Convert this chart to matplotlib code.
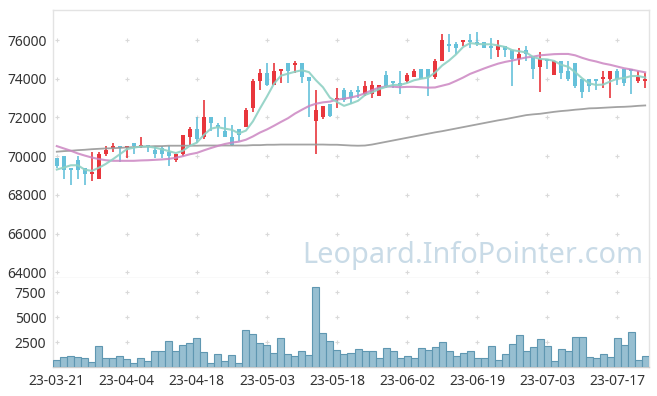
import numpy as np
import matplotlib.pyplot as plt

# daily candles (KRW), 85 trading days from 23-03-21
opens = [69900, 70000, 69400, 69800, 69400, 69100, 68800, 70100, 70400, 70500,
         70400, 70700, 70500, 70600, 70300, 70400, 70200, 69800, 70100, 71000,
         71400, 71000, 72000, 71600, 71300, 71000, 71400, 71500, 72500, 73900,
         74300, 73700, 74400, 74800, 74700, 74800, 74100, 71800, 72000, 72700,
         72900, 73400, 73300, 73400, 73200, 73200, 73100, 74200, 73900, 73800,
         73900, 74100, 74500, 74500, 74100, 74900, 75800, 75800, 75900, 76000,
         75900, 75900, 75700, 75500, 75700, 75500, 75000, 75500, 75200, 74600,
         75000, 74200, 74900, 74400, 74800, 74000, 74000, 74000, 74000, 74000,
         74400, 74500, 74500, 73900, 73900]
highs = [69900, 70000, 69400, 70000, 69400, 70200, 70200, 70500, 70700, 70500,
         70500, 70700, 71000, 70600, 70500, 70500, 70500, 70100, 71100, 71500,
         72000, 72900, 72000, 71700, 72000, 71600, 71400, 72500, 74000, 74500,
         74800, 74800, 74500, 74800, 74900, 74800, 74100, 73400, 72600, 72700,
         73500, 73500, 73400, 73600, 73900, 73900, 73700, 74400, 73900, 74400,
         74300, 74500, 74500, 74500, 75000, 76300, 76300, 75900, 76000, 76300,
         76400, 75900, 76100, 76000, 75700, 75500, 75600, 75700, 75200, 75400,
         75000, 74900, 74900, 74900, 74800, 74000, 74000, 74000, 74400, 74400,
         74500, 74500, 74500, 74400, 74300]
lows = [69400, 68800, 68500, 68800, 68500, 68700, 68800, 70000, 70200, 69700,
        69900, 70100, 70400, 70200, 69900, 69900, 69500, 69700, 70000, 70500,
        70700, 70900, 71300, 71000, 71000, 70500, 70800, 71500, 72300, 73400,
        73600, 73700, 73800, 73800, 74300, 73800, 72000, 70100, 71900, 72000,
        72500, 72800, 72700, 73000, 73100, 73000, 73100, 73500, 73500, 73200,
        73800, 74100, 74000, 73100, 74000, 74900, 75400, 75300, 75700, 75600,
        75700, 75600, 75000, 75100, 75100, 73600, 74700, 74900, 74000, 73300,
        74500, 74200, 74000, 73900, 73500, 73000, 73300, 73400, 73500, 73000,
        73700, 73600, 73200, 73800, 73500]
closes = [69500, 69300, 69300, 69300, 69100, 69200, 70100, 70300, 70500, 70400,
          70500, 70500, 70600, 70500, 70100, 70100, 70000, 70100, 71100, 71400,
          70900, 72000, 71700, 71500, 71000, 70600, 71100, 72400, 73900, 74300,
          73700, 74400, 74500, 74400, 74800, 74100, 73900, 72400, 72600, 72100,
          73000, 72900, 73000, 73300, 73600, 73700, 73700, 73600, 73800, 73600,
          74200, 74400, 74000, 74100, 74900, 76000, 75700, 75600, 76000, 75900,
          75800, 75600, 75600, 75700, 75500, 75000, 75300, 75300, 74500, 75000,
          74900, 74900, 74300, 74000, 73600, 73300, 73600, 73900, 74100, 74400,
          74000, 73800, 74400, 74100, 74000]
volumes = [750, 1050, 1150, 1050, 950, 550, 2130, 950, 950, 1150,
           850, 460, 950, 650, 1640, 1640, 2620, 1640, 2220, 2420,
           2910, 1540, 460, 1340, 650, 1240, 460, 3700, 3300, 2420,
           2220, 1440, 2910, 1340, 1150, 1640, 1240, 8010, 3400, 2620,
           1730, 1340, 1440, 1830, 1640, 1640, 950, 1930, 1640, 950,
           1150, 950, 1930, 1730, 2030, 2520, 1640, 1150, 1440, 1640,
           950, 950, 2130, 750, 1340, 2320, 3200, 1640, 2030, 2810,
           2130, 650, 1830, 1640, 3010, 3010, 1050, 950, 1340, 1050,
           2910, 2220, 3500, 750, 1150]

# moving averages as drawn on the chart
ma5 = [69310, 69410, 69530, 69530, 69300, 69240, 69400, 69600, 69840, 70100,
       70360, 70440, 70500, 70500, 70440, 70360, 70260, 70160, 70280, 70540,
       70700, 71100, 71420, 71500, 71420, 71360, 71180, 71320, 71800, 72460,
       73080, 73740, 74160, 74260, 74360, 74440, 74340, 73920, 73560, 73020,
       72800, 72600, 72720, 72860, 73160, 73300, 73460, 73580, 73680, 73680,
       73780, 73920, 74000, 74060, 74320, 74680, 74940, 75260, 75640, 75840,
       75800, 75780, 75780, 75720, 75640, 75480, 75420, 75360, 75120, 75020,
       75000, 74920, 74720, 74620, 74340, 74020, 73760, 73680, 73700, 73860,
       74000, 74040, 74140, 74140, 74060]
ma20 = [70520, 70400, 70280, 70140, 70030, 69930, 69850, 69790, 69760, 69760,
        69760, 69760, 69780, 69790, 69810, 69830, 69860, 69920, 70000, 70100,
        70170, 70300, 70420, 70530, 70630, 70700, 70750, 70850, 71020, 71220,
        71380, 71570, 71770, 71960, 72200, 72400, 72590, 72710, 72780, 72820,
        72920, 72970, 73030, 73120, 73250, 73410, 73540, 73600, 73590, 73560,
        73580, 73580, 73560, 73540, 73550, 73640, 73730, 73890, 74060, 74250,
        74390, 74530, 74660, 74780, 74870, 74940, 75020, 75100, 75140, 75210,
        75240, 75270, 75280, 75280, 75210, 75080, 74970, 74890, 74790, 74720,
        74630, 74540, 74480, 74400, 74330]
ma60 = [70230, 70260, 70280, 70310, 70330, 70360, 70380, 70400, 70410, 70430,
        70450, 70470, 70480, 70500, 70520, 70520, 70540, 70540, 70540, 70540,
        70540, 70550, 70550, 70550, 70550, 70550, 70550, 70550, 70570, 70570,
        70590, 70590, 70600, 70600, 70600, 70600, 70600, 70600, 70600, 70590,
        70590, 70570, 70550, 70540, 70550, 70600, 70670, 70740, 70810, 70880,
        70950, 71020, 71090, 71160, 71230, 71290, 71360, 71430, 71500, 71570,
        71640, 71710, 71780, 71850, 71910, 71980, 72050, 72120, 72160, 72190,
        72240, 72290, 72330, 72360, 72400, 72430, 72470, 72480, 72500, 72520,
        72540, 72550, 72570, 72600, 72620]

tick_labels = ["23-03-21", "23-04-04", "23-04-18", "23-05-03", "23-05-18",
               "23-06-02", "23-06-19", "23-07-03", "23-07-17"]
tick_pos = [0, 10, 20, 30, 40, 50, 60, 70, 80]
price_ticks = [64000, 66000, 68000, 70000, 72000, 74000, 76000]
vol_ticks = [2500, 5000, 7500]

UP = "#e8363c"
DOWN = "#66c1da"
SPINE = "#e3e3e3"
TXT = "#333333"

plt.rcParams["font.family"] = ["Noto Sans", "DejaVu Sans"]


def _plus_grid(ax, xs, ys):
    gx, gy = np.meshgrid(xs, ys)
    ax.scatter(gx.ravel(), gy.ravel(), marker="+", s=12, lw=0.8,
               color="#d9d9d9", zorder=1)


def _style(ax):
    for s in ax.spines.values():
        s.set_color(SPINE)
        s.set_linewidth(1.0)
    ax.tick_params(length=0, labelsize=10, colors=TXT, pad=5)


fig = plt.figure(figsize=(6.57, 3.96), dpi=100)
ax = fig.add_axes([0.0811, 0.2972, 0.9063, 0.6775])
axv = fig.add_axes([0.0811, 0.0725, 0.9063, 0.2247], sharex=ax)

x = np.arange(len(closes))
o = np.array(opens)
c = np.array(closes)
colors = np.where(c >= o, UP, DOWN)

# --- price panel ---
_plus_grid(ax, tick_pos, price_ticks)
ax.vlines(x, lows, highs, colors=colors, lw=1.2, zorder=3)
body_lo = np.minimum(o, c)
body_h = np.maximum(np.abs(c - o), 60)
ax.bar(x, body_h, bottom=body_lo, width=0.62, color=colors, lw=0, zorder=4)

ax.plot(x, ma60, color="#999999", lw=1.3, alpha=0.9, zorder=5)
ax.plot(x, ma20, color="#cc86c2", lw=1.5, alpha=0.85, zorder=5)
ax.plot(x, ma5, color="#8fd1c4", lw=1.5, alpha=0.9, zorder=5)

ax.set_ylim(63690, 77550)
ax.set_yticks(price_ticks)
ax.set_yticklabels([str(v) for v in price_ticks])
ax.set_xlim(-0.5, 84.5)
plt.setp(ax.get_xticklabels(), visible=False)
_style(ax)

ax.text(0.704, 0.056, "Leopard.InfoPointer.com", transform=ax.transAxes,
        ha="center", va="baseline", fontsize=20.8, color="#c9dbe7", zorder=1)

# --- volume panel ---
_plus_grid(axv, tick_pos, vol_ticks)
axv.bar(x, volumes, width=1.0, color="#97bfd1", edgecolor="#5f97b1",
        lw=0.8, zorder=3)
axv.set_ylim(0, 8900)
axv.set_yticks(vol_ticks)
axv.set_yticklabels([str(v) for v in vol_ticks])
axv.set_xticks(tick_pos)
axv.set_xticklabels(tick_labels)
_style(axv)
axv.spines["bottom"].set_color("#cccccc")
axv.spines["top"].set_visible(False)

fig.savefig("out.png", dpi=100)
